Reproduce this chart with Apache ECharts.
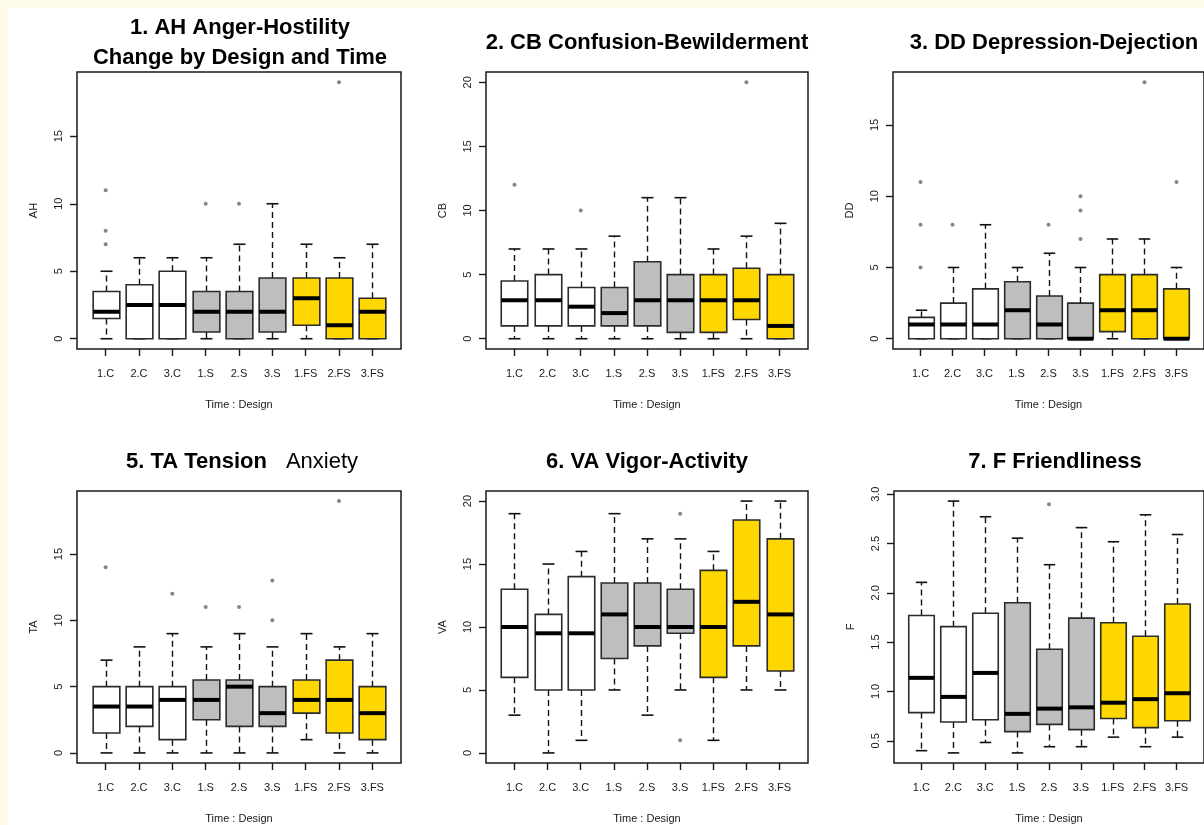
<!DOCTYPE html>
<html><head><meta charset="utf-8">
<script src="https://cdn.jsdelivr.net/npm/echarts@6/dist/echarts.min.js"></script>
<style>
html,body{margin:0;padding:0;background:#FFFBEA;width:1204px;height:825px;overflow:hidden}
#chart{position:absolute;left:8px;top:8px;width:1196px;height:817px;background:#ffffff}
</style></head><body><div id="chart"></div>
<script>
const categories = ['1.C','2.C','3.C','1.S','2.S','3.S','1.FS','2.FS','3.FS'];
const designGroups = ['C','C','C','S','S','S','FS','FS','FS'];

// box statistics per category: [min, Q1, median, Q3, max]
const ahStats = [[0,1.5,2,3.5,5],[0,0,2.5,4,6],[0,0,2.5,5,6],[0,0.5,2,3.5,6],[0,0,2,3.5,7],[0,0.5,2,4.5,10],[0,1,3,4.5,7],[0,0,1,4.5,6],[0,0,2,3,7]];
const ahOutliers = [[1,7],[1,8],[1,11],[4,10],[5,10],[8,19]];
const ahTicks = [0,5,10,15];
const ahTickLabels = ['0','5','10','15'];

const cbStats = [[0,1,3,4.5,7],[0,1,3,5,7],[0,1,2.5,4,7],[0,1,2,4,8],[0,1,3,6,11],[0,0.5,3,5,11],[0,0.5,3,5,7],[0,1.5,3,5.5,8],[0,0,1,5,9]];
const cbOutliers = [[1,12],[3,10],[8,20]];
const cbTicks = [0,5,10,15,20];
const cbTickLabels = ['0','5','10','15','20'];

const ddStats = [[0,0,1,1.5,2],[0,0,1,2.5,5],[0,0,1,3.5,8],[0,0,2,4,5],[0,0,1,3,6],[0,0,0,2.5,5],[0,0.5,2,4.5,7],[0,0,2,4.5,7],[0,0,0,3.5,5]];
const ddOutliers = [[1,5],[1,8],[1,11],[2,8],[5,8],[6,7],[6,9],[6,10],[8,18],[9,11]];
const ddTicks = [0,5,10,15];
const ddTickLabels = ['0','5','10','15'];

const taStats = [[0,1.5,3.5,5,7],[0,2,3.5,5,8],[0,1,4,5,9],[0,2.5,4,5.5,8],[0,2,5,5.5,9],[0,2,3,5,8],[1,3,4,5.5,9],[0,1.5,4,7,8],[0,1,3,5,9]];
const taOutliers = [[1,14],[3,12],[4,11],[5,11],[6,10],[6,13],[8,19]];
const taTicks = [0,5,10,15];
const taTickLabels = ['0','5','10','15'];

const vaStats = [[3,6,10,13,19],[0,5,9.5,11,15],[1,5,9.5,14,16],[5,7.5,11,13.5,19],[3,8.5,10,13.5,17],[5,9.5,10,13,17],[1,6,10,14.5,16],[5,8.5,12,18.5,20],[5,6.5,11,17,20]];
const vaOutliers = [[6,19],[6,1]];
const vaTicks = [0,5,10,15,20];
const vaTickLabels = ['0','5','10','15','20'];

const fStats = [[0.40,0.786,1.138,1.770,2.106],[0.377,0.690,0.945,1.657,2.930],[0.483,0.713,1.188,1.793,2.771],[0.377,0.593,0.773,1.900,2.554],[0.440,0.666,0.826,1.428,2.285],[0.440,0.613,0.839,1.743,2.661],[0.537,0.726,0.886,1.697,2.518],[0.440,0.633,0.922,1.560,2.791],[0.537,0.703,0.982,1.886,2.591]];
const fOutliers = [[5,2.897]];
const fTicks = [0.5,1.0,1.5,2.0,2.5,3.0];
const fTickLabels = ['0.5','1.0','1.5','2.0','2.5','3.0'];

const catPositions = [1,2,3,4,5,6,7,8,9];

const FILL = {C:'#FFFFFF', S:'#BEBEBE', FS:'#FFD700'};
const BOX_W = 0.8, CAP_W = 0.36;

const panels = [
  {title:'1. AH Anger-Hostility\nChange by Design and Time', name:'AH', stats:ahStats, out:ahOutliers, ticks:ahTicks, labels:ahTickLabels,
   grid:{left:69, top:64, width:324, height:277}, tx:232, ty:5},
  {title:'2. CB Confusion-Bewilderment', name:'CB', stats:cbStats, out:cbOutliers, ticks:cbTicks, labels:cbTickLabels,
   grid:{left:478, top:64, width:322, height:277}, tx:639, ty:22},
  {title:'3. DD Depression-Dejection', name:'DD', stats:ddStats, out:ddOutliers, ticks:ddTicks, labels:ddTickLabels,
   grid:{left:885, top:64, width:324, height:277}, tx:1046, ty:22},
  {title:'{b|5. TA Tension}{r|Anxiety}', name:'TA', stats:taStats, out:taOutliers, ticks:taTicks, labels:taTickLabels,
   grid:{left:69, top:483, width:324, height:276}, tx:234, ty:441},
  {title:'6. VA Vigor-Activity', name:'VA', stats:vaStats, out:vaOutliers, ticks:vaTicks, labels:vaTickLabels,
   grid:{left:478, top:483, width:322, height:276}, tx:639, ty:441},
  {title:'7. F Friendliness', name:'F', stats:fStats, out:fOutliers, ticks:fTicks, labels:fTickLabels,
   grid:{left:886, top:483, width:324, height:276}, tx:1047, ty:441}
];

function renderBox(params, api) {
  const x = api.value(0);
  const mn = api.value(1), q1 = api.value(2), md = api.value(3), q3 = api.value(4), mx = api.value(5);
  const w = api.size([BOX_W, 0])[0];
  const cw = api.size([CAP_W, 0])[0];
  const pMin = api.coord([x, mn]), pQ1 = api.coord([x, q1]), pMd = api.coord([x, md]), pQ3 = api.coord([x, q3]), pMx = api.coord([x, mx]);
  const cx = Math.round(pMin[0]) + 0.5;
  const fill = FILL[designGroups[params.dataIndex]];
  const dash = {stroke:'#111', lineWidth:1.4, lineDash:[6,4]};
  const cap = {stroke:'#111', lineWidth:1.6};
  const children = [];
  if (mx > q3) children.push({type:'line', shape:{x1:cx, y1:pQ3[1], x2:cx, y2:pMx[1]}, style:dash});
  if (mn < q1) children.push({type:'line', shape:{x1:cx, y1:pQ1[1], x2:cx, y2:pMin[1]}, style:dash});
  children.push({type:'line', shape:{x1:cx-cw/2, y1:pMx[1], x2:cx+cw/2, y2:pMx[1]}, style:cap});
  children.push({type:'line', shape:{x1:cx-cw/2, y1:pMin[1], x2:cx+cw/2, y2:pMin[1]}, style:cap});
  children.push({type:'rect', shape:{x:cx-w/2, y:pQ3[1], width:w, height:pQ1[1]-pQ3[1]}, style:{fill:fill, stroke:'#2b2b2b', lineWidth:1.6}});
  children.push({type:'line', shape:{x1:cx-w/2, y1:pMd[1], x2:cx+w/2, y2:pMd[1]}, style:{stroke:'#000000', lineWidth:4}});
  return {type:'group', children};
}

const FONT = '"Liberation Sans", Arial, sans-serif';
const option = {animation:false, backgroundColor:'#ffffff', title:[], grid:[], xAxis:[], yAxis:[], series:[]};

panels.forEach((p, i) => {
  let lo = Infinity, hi = -Infinity;
  p.stats.forEach(s => { lo = Math.min(lo, s[0]); hi = Math.max(hi, s[4]); });
  p.out.forEach(o => { lo = Math.min(lo, o[1]); hi = Math.max(hi, o[1]); });
  const pad = (hi - lo) * 0.04;
  const xPad = (catPositions.length) * 0.04;

  option.title.push({
    text: p.title, left: p.tx, top: p.ty, padding: 0, textAlign:'center', textVerticalAlign:'top',
    textStyle: {fontFamily: FONT, fontSize: 22, fontWeight:'bold', color:'#000', lineHeight: i === 0 ? 30 : 26,
      rich: {b:{fontFamily: FONT, fontSize:22, fontWeight:'bold', color:'#000'},
             r:{fontFamily: FONT, fontSize:22, fontWeight:'normal', color:'#000', padding:[0,0,0,19]}}}
  });
  option.grid.push(Object.assign({show:true, borderColor:'#1a1a1a', borderWidth:1.5, backgroundColor:'transparent'}, p.grid));
  option.xAxis.push({
    type:'value', gridIndex:i, min: 1 - 0.5 - xPad, max: catPositions.length + 0.5 + xPad,
    name:'Time : Design', nameLocation:'middle', nameGap:50,
    nameTextStyle:{fontFamily:FONT, fontSize:11, color:'#1a1a1a'},
    axisLine:{show:false, onZero:false}, splitLine:{show:false},
    axisTick:{show:true, length:7, customValues:catPositions, lineStyle:{color:'#1a1a1a', width:1.4}},
    axisLabel:{customValues:catPositions, margin:19, fontFamily:FONT, fontSize:11, color:'#1a1a1a',
      formatter: v => categories[Math.round(v) - 1]}
  });
  option.yAxis.push({
    type:'value', gridIndex:i, min: lo - pad, max: hi + pad,
    name:p.name, nameLocation:'middle', nameGap:38,
    nameTextStyle:{fontFamily:FONT, fontSize:11, color:'#1a1a1a'},
    axisLine:{show:false, onZero:false}, splitLine:{show:false},
    axisTick:{show:true, length:7, customValues:p.ticks, lineStyle:{color:'#1a1a1a', width:1.4}},
    axisLabel:{customValues:p.ticks, rotate:90, margin:13, fontFamily:FONT, fontSize:11, color:'#1a1a1a',
      formatter: v => { const k = p.ticks.findIndex(t => Math.abs(t - v) < 1e-6); return k >= 0 ? p.labels[k] : ''; }}
  });
  option.series.push({
    type:'custom', xAxisIndex:i, yAxisIndex:i, renderItem: renderBox,
    encode:{x:0, y:[1,2,3,4,5]},
    data: p.stats.map((s, k) => [catPositions[k]].concat(s)), z:2
  });
  option.series.push({
    type:'scatter', xAxisIndex:i, yAxisIndex:i, symbol:'circle', symbolSize:4,
    itemStyle:{color:'#666666'}, data: p.out, z:3
  });
});

const chart = echarts.init(document.getElementById('chart'), null, {renderer:'canvas'});
chart.setOption(option);
</script></body></html>
